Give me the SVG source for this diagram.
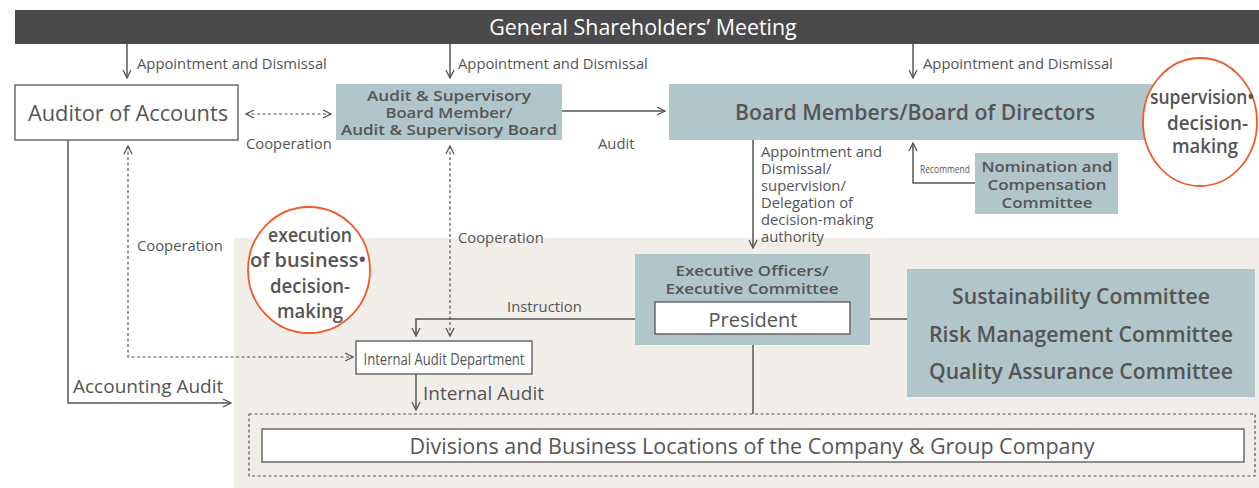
<svg xmlns="http://www.w3.org/2000/svg" width="1259" height="488" viewBox="0 0 1259 488">
<defs>
<marker id="ah" viewBox="0 0 10 10" refX="9" refY="5" markerWidth="10" markerHeight="10" markerUnits="userSpaceOnUse" orient="auto-start-reverse">
<path d="M1,1 L9,5 L1,9" fill="none" stroke="#555" stroke-width="1.3"/>
</marker>
<style>
text{font-family:"Open Sans","Noto Sans",sans-serif;fill:#555}
.lbl{font-size:14.8px}
.bold{font-weight:600}
.ln{stroke:#555;stroke-width:1.5;fill:none}
.dash{stroke:#555;stroke-width:1.2;fill:none;stroke-dasharray:3,2.5}
.teal{fill:#b0c6cb}
.wbox{fill:#fff;stroke:#555;stroke-width:1.3}
.circ{fill:#fff;stroke:#f05a28;stroke-width:1.8}
</style>
</defs>
<rect x="0" y="0" width="1259" height="488" fill="#fff"/>
<rect x="234" y="238" width="1025" height="250" fill="#f1ede8"/>

<g id="connectors">
<path class="ln" d="M127,44 V78" marker-end="url(#ah)"/>
<path class="ln" d="M450,44 V78" marker-end="url(#ah)"/>
<path class="ln" d="M913,44 V78" marker-end="url(#ah)"/>
<path class="dash" d="M246,114 H331" marker-start="url(#ah)" marker-end="url(#ah)"/>
<path class="ln" d="M562,111 H665" marker-end="url(#ah)"/>
<path class="ln" d="M753,140 V248" marker-end="url(#ah)"/>
<path class="ln" d="M975,183 H913 V143" marker-end="url(#ah)"/>
<path class="dash" d="M128,146 V357 H353" marker-start="url(#ah)" marker-end="url(#ah)"/>
<path class="dash" d="M450,146 V336" marker-start="url(#ah)" marker-end="url(#ah)"/>
<path class="ln" d="M655,319 H416 V336" marker-end="url(#ah)"/>
<path class="ln" d="M850,319 H907"/>
<path class="ln" d="M416,374 V410" marker-end="url(#ah)"/>
<path class="ln" d="M68,140 V403 H231" marker-end="url(#ah)"/>
<path class="ln" d="M753,345 V414"/>
<text class="lbl" x="137" y="69">Appointment and Dismissal</text>
<text class="lbl" x="458" y="69">Appointment and Dismissal</text>
<text class="lbl" x="923" y="69">Appointment and Dismissal</text>
<text class="lbl" x="246" y="149">Cooperation</text>
<text class="lbl" x="598" y="149">Audit</text>
<text class="lbl"><tspan x="761" y="157">Appointment and</tspan><tspan x="761" y="174">Dismissal/</tspan><tspan x="761" y="191">supervision/</tspan><tspan x="761" y="208">Delegation of</tspan><tspan x="761" y="225">decision-making</tspan><tspan x="761" y="242">authority</tspan></text>
<text x="920" y="173" font-size="10" textLength="50" lengthAdjust="spacingAndGlyphs">Recommend</text>
<text class="lbl" x="137" y="251">Cooperation</text>
<text class="lbl" x="458" y="243">Cooperation</text>
<text class="lbl" x="507" y="312">Instruction</text>
<text x="423" y="400" font-size="19">Internal Audit</text>
<text x="73" y="393" font-size="19">Accounting Audit</text>
</g>

<g id="top-bar">
<rect x="15" y="10" width="1244" height="34" fill="#4a4a4c"/>
<text x="643" y="35" font-size="21.4" text-anchor="middle" style="fill:#fff">General Shareholders’ Meeting</text>
</g>

<g id="auditor-of-accounts">
<rect class="wbox" x="15" y="85" width="223" height="55"/>
<text x="128" y="121" font-size="21.8" text-anchor="middle">Auditor of Accounts</text>
</g>

<g id="audit-supervisory-board">
<rect class="teal" x="336" y="84" width="226" height="56"/>
<text class="bold" font-size="14.5" text-anchor="middle" x="449" y="101" textLength="164" lengthAdjust="spacingAndGlyphs">Audit &amp; Supervisory</text>
<text class="bold" font-size="14.5" text-anchor="middle" x="449" y="118" textLength="127" lengthAdjust="spacingAndGlyphs">Board Member/</text>
<text class="bold" font-size="14.5" text-anchor="middle" x="449" y="135" textLength="216" lengthAdjust="spacingAndGlyphs">Audit &amp; Supervisory Board</text>
</g>

<g id="board-of-directors">
<rect class="teal" x="669" y="84" width="510" height="56"/>
<text class="bold" x="915" y="120" font-size="21" text-anchor="middle" textLength="360" lengthAdjust="spacingAndGlyphs">Board Members/Board of Directors</text>
</g>

<g id="supervision-circle">
<ellipse class="circ" cx="1200" cy="122" rx="57" ry="64"/>
<text class="bold" font-size="20" x="1150" y="104" textLength="104" lengthAdjust="spacingAndGlyphs">supervision•</text>
<text class="bold" font-size="20" x="1167" y="130" textLength="81" lengthAdjust="spacingAndGlyphs">decision-</text>
<text class="bold" font-size="20" x="1172" y="153" textLength="66" lengthAdjust="spacingAndGlyphs">making</text>
</g>

<g id="nomination-committee">
<rect class="teal" x="975" y="153" width="143" height="61"/>
<text class="bold" font-size="15" text-anchor="middle" x="1047" y="172" textLength="131" lengthAdjust="spacingAndGlyphs">Nomination and</text>
<text class="bold" font-size="15" text-anchor="middle" x="1047" y="190" textLength="119" lengthAdjust="spacingAndGlyphs">Compensation</text>
<text class="bold" font-size="15" text-anchor="middle" x="1047" y="208" textLength="91" lengthAdjust="spacingAndGlyphs">Committee</text>
</g>

<g id="execution-circle">
<ellipse class="circ" cx="309" cy="270" rx="61" ry="63"/>
<text class="bold" font-size="20" x="268" y="242" textLength="84" lengthAdjust="spacingAndGlyphs">execution</text>
<text class="bold" font-size="20" x="250" y="267" textLength="116" lengthAdjust="spacingAndGlyphs">of business•</text>
<text class="bold" font-size="20" x="270" y="293" textLength="80" lengthAdjust="spacingAndGlyphs">decision-</text>
<text class="bold" font-size="20" x="277" y="318" textLength="66" lengthAdjust="spacingAndGlyphs">making</text>
</g>

<g id="executive-officers">
<rect class="teal" x="635" y="254" width="235" height="91"/>
<text class="bold" font-size="15" text-anchor="middle" x="752" y="276" textLength="153" lengthAdjust="spacingAndGlyphs">Executive Officers/</text>
<text class="bold" font-size="15" text-anchor="middle" x="752" y="294" textLength="173" lengthAdjust="spacingAndGlyphs">Executive Committee</text>
</g>

<g id="president">
<rect class="wbox" x="655" y="302" width="195" height="32"/>
<text x="753" y="327" font-size="20" text-anchor="middle">President</text>
</g>

<g id="committees">
<rect class="teal" x="907" y="269" width="348" height="128"/>
<text class="bold" font-size="21" text-anchor="middle" x="1081" y="304" textLength="258" lengthAdjust="spacingAndGlyphs">Sustainability Committee</text>
<text class="bold" font-size="21" text-anchor="middle" x="1081" y="342" textLength="304" lengthAdjust="spacingAndGlyphs">Risk Management Committee</text>
<text class="bold" font-size="21" text-anchor="middle" x="1081" y="379" textLength="304" lengthAdjust="spacingAndGlyphs">Quality Assurance Committee</text>
</g>

<g id="internal-audit-department">
<rect class="wbox" x="356" y="341" width="176" height="33"/>
<text x="444" y="365" font-size="17" text-anchor="middle" textLength="161" lengthAdjust="spacingAndGlyphs">Internal Audit Department</text>
</g>

<g id="divisions">
<rect class="dash" x="249" y="414" width="1006" height="62"/>
<rect class="wbox" x="262" y="429" width="982" height="33"/>
<text x="752" y="454" font-size="21.5" text-anchor="middle" textLength="685" lengthAdjust="spacingAndGlyphs">Divisions and Business Locations of the Company &amp; Group Company</text>
</g>
</svg>
